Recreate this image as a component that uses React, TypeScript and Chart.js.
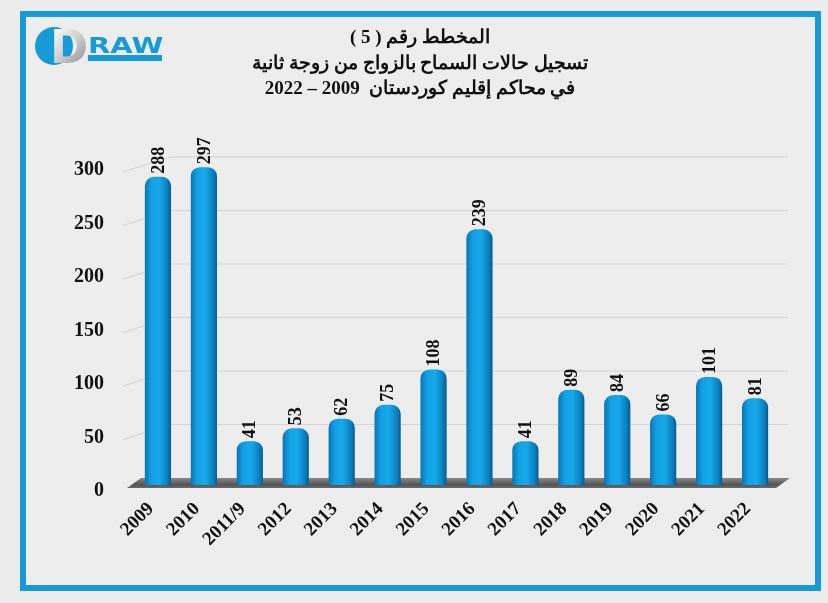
import React, { useEffect, useRef } from "react";
import { Chart, registerables } from "chart.js";

Chart.register(...registerables);

const categories = ["2009", "2010", "2011/9", "2012", "2013", "2014", "2015", "2016", "2017", "2018", "2019", "2020", "2021", "2022"];
const values = [288, 297, 41, 53, 62, 75, 108, 239, 41, 89, 84, 66, 101, 81];
const yMin = 0;
const yMax = 300;
const yStep = 50;
const titleLines = [
  "المخطط رقم ( 5 )",
  "تسجيل حالات السماح بالزواج من زوجة ثانية",
  "في محاكم إقليم كوردستان  2009 – 2022",
];
const logoLetter = "D";
const logoWord = "RAW";

const SERIF = '"Liberation Serif", "Times New Roman", "DejaVu Serif", serif';
const BLUE = "#179bd7";

const framePlugin = {
  id: "frame",
  beforeDraw(chart: any) {
    const { ctx, width, height } = chart;
    ctx.save();
    ctx.fillStyle = "#ececec";
    ctx.fillRect(0, 0, width, height);
    ctx.fillStyle = "#ededed";
    ctx.fillRect(26, 17, 789, 568);
    ctx.lineWidth = 6;
    ctx.strokeStyle = BLUE;
    ctx.strokeRect(23, 14, 795, 574);
    ctx.restore();
  },
};

const headerPlugin = {
  id: "header",
  afterDraw(chart: any) {
    const { ctx } = chart;
    ctx.save();
    // title
    ctx.fillStyle = "#111";
    ctx.font = `bold 19px ${SERIF}`;
    ctx.textAlign = "center";
    ctx.textBaseline = "middle";
    (ctx as any).direction = "rtl";
    const ys = [38, 64, 89];
    titleLines.forEach((t, i) => ctx.fillText(t, 420, ys[i]));
    (ctx as any).direction = "ltr";
    // logo
    ctx.beginPath();
    ctx.arc(54, 46, 19, 0, Math.PI * 2);
    ctx.fillStyle = BLUE;
    ctx.fill();
    const g = ctx.createLinearGradient(52, 28, 90, 64);
    g.addColorStop(0, "#ffffff");
    g.addColorStop(0.45, "#d2d2d2");
    g.addColorStop(1, "#8a8a8a");
    ctx.fillStyle = g;
    ctx.font = 'bold 46px "DejaVu Sans", sans-serif';
    ctx.textAlign = "left";
    ctx.textBaseline = "alphabetic";
    ctx.fillText(logoLetter, 50, 63);
    ctx.fillStyle = BLUE;
    ctx.save();
    ctx.translate(88, 53);
    ctx.scale(1.38, 1);
    ctx.font = 'bold 21px "DejaVu Sans", sans-serif';
    ctx.fillText(logoWord, 0, 0);
    ctx.restore();
    ctx.fillRect(88, 55, 74, 6);
    ctx.restore();
  },
};

const grid3dPlugin = {
  id: "grid3d",
  beforeDatasetsDraw(chart: any) {
    const { ctx, chartArea } = chart;
    const ys = chart.scales.y;
    const L = chartArea.left;
    const R = chartArea.right;
    const B = chartArea.bottom;
    ctx.save();
    ctx.strokeStyle = "#d4d4d4";
    ctx.lineWidth = 1.2;
    for (let v = yMin + yStep; v <= yMax; v += yStep) {
      const y = ys.getPixelForValue(v);
      ctx.beginPath();
      ctx.moveTo(L - 12, y + 8);
      ctx.lineTo(L + 35, y - 7);
      ctx.lineTo(R + 10, y - 7);
      ctx.stroke();
    }
    // floor
    const fg = ctx.createLinearGradient(0, B - 7, 0, B + 4);
    fg.addColorStop(0, "#8a8a8a");
    fg.addColorStop(0.6, "#555555");
    fg.addColorStop(1, "#6e6e6e");
    ctx.fillStyle = fg;
    ctx.beginPath();
    ctx.moveTo(L - 8, B + 3);
    ctx.lineTo(R - 2, B + 3);
    ctx.lineTo(R + 12, B - 7);
    ctx.lineTo(L + 6, B - 7);
    ctx.closePath();
    ctx.fill();
    ctx.restore();
  },
};

const valueLabelPlugin = {
  id: "valueLabels",
  afterDatasetsDraw(chart: any) {
    const { ctx } = chart;
    const meta = chart.getDatasetMeta(0);
    ctx.save();
    ctx.fillStyle = "#111";
    ctx.font = `bold 18px ${SERIF}`;
    ctx.textAlign = "left";
    ctx.textBaseline = "middle";
    meta.data.forEach((bar: any, i: number) => {
      ctx.save();
      ctx.translate(bar.x, bar.y - 3);
      ctx.rotate(-Math.PI / 2);
      ctx.fillText(String(values[i]), 0, 1);
      ctx.restore();
    });
    ctx.restore();
  },
};

export default function App() {
  const ref = useRef<HTMLCanvasElement | null>(null);
  useEffect(() => {
    document.body.style.margin = "0";
    document.body.style.background = "#ececec";
    if (!ref.current) return;
    const chart = new Chart(ref.current, {
      type: "bar",
      data: {
        labels: categories,
        datasets: [
          {
            data: values,
            backgroundColor: (c: any) => {
              const ch = c.chart;
              const xs = ch.scales && ch.scales.x;
              if (!xs || c.dataIndex == null || !ch.chartArea) return "#12a0e0";
              const cx = xs.getPixelForValue(c.dataIndex);
              const w = (xs.width / categories.length) * 0.57;
              const g = ch.ctx.createLinearGradient(cx - w / 2, 0, cx + w / 2, 0);
              g.addColorStop(0, "#0a74b4");
              g.addColorStop(0.25, "#12a2e4");
              g.addColorStop(0.55, "#16a8e8");
              g.addColorStop(0.85, "#0c80c0");
              g.addColorStop(1, "#075a90");
              return g;
            },
            borderRadius: 9,
            borderSkipped: "bottom",
            categoryPercentage: 1,
            barPercentage: 0.57,
          },
        ],
      },
      options: {
        animation: false,
        responsive: true,
        maintainAspectRatio: false,
        layout: { padding: { top: 164, right: 50, left: 0, bottom: 0 } },
        plugins: {
          legend: { display: false },
          title: { display: false },
          tooltip: { enabled: false },
        },
        scales: {
          x: {
            grid: { display: false },
            border: { display: false },
            ticks: {
              autoSkip: false,
              maxRotation: 45,
              minRotation: 45,
              padding: 5,
              labelOffset: -7,
              color: "#111",
              font: { family: SERIF, size: 19, weight: "bold" },
            },
            afterFit: (s: any) => {
              s.height = 603 - 485;
            },
          },
          y: {
            min: yMin,
            max: yMax,
            grid: { display: false },
            border: { display: false },
            ticks: {
              stepSize: yStep,
              padding: 23,
              labelOffset: 6,
              color: "#111",
              font: { family: SERIF, size: 20, weight: "bold" },
            },
            afterFit: (s: any) => {
              s.width = 135;
            },
          },
        },
      },
      plugins: [framePlugin, grid3dPlugin, valueLabelPlugin, headerPlugin],
    });
    return () => chart.destroy();
  }, []);
  return (
    <div style={{ position: "relative", width: 828, height: 603 }}>
      <canvas ref={ref} />
    </div>
  );
}
